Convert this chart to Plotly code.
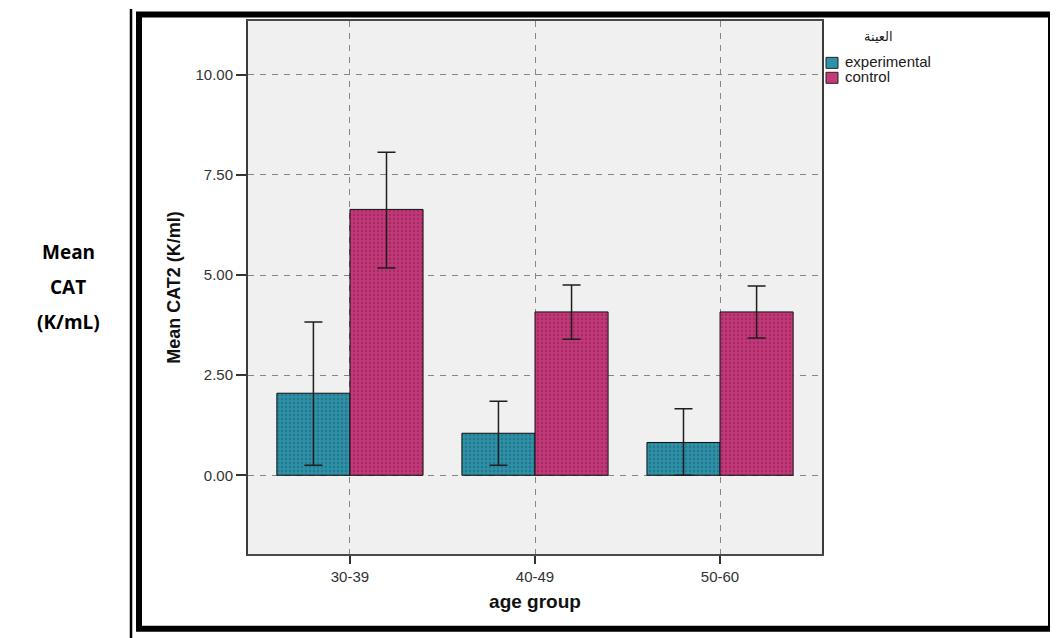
import plotly.graph_objects as go

categories = ["30-39", "40-49", "50-60"]
exp_mean = [2.05, 1.05, 0.82]
exp_low = [0.25, 0.25, 0.0]
exp_high = [3.83, 1.85, 1.66]
ctl_mean = [6.64, 4.08, 4.08]
ctl_low = [5.18, 3.40, 3.43]
ctl_high = [8.07, 4.75, 4.73]
y_ticks = [0, 2.5, 5, 7.5, 10]
y_tick_labels = ["0.00", "2.50", "5.00", "7.50", "10.00"]
legend_names = ["experimental", "control"]
legend_title = "العينة"

# The page body has an 8px margin, so work in page pixels and shift.
OFF = 8
W, H = 1058 - OFF, 638 - OFF
L, R, T, B = 248, 822, 19, 554  # plot area in page pixels

EXP_COL, EXP_DOT = "#2e92aa", "#1b5f70"
CTL_COL, CTL_DOT = "#c5397a", "#86204d"


def px(x):
    return (x - L) / (R - L)


def py(y):
    return (B - y) / (B - T)


fig = go.Figure()

err_style = dict(type="data", symmetric=False, color="#1e1e1e", thickness=1.5, width=9)

fig.add_trace(go.Bar(
    name=legend_names[0], x=categories, y=exp_mean,
    marker=dict(color=EXP_COL, line=dict(color="#111111", width=1),
                pattern=dict(shape=".", size=4, solidity=0.38,
                             fgcolor=EXP_DOT, bgcolor=EXP_COL)),
    error_y=dict(array=[h - m for h, m in zip(exp_high, exp_mean)],
                 arrayminus=[m - l for m, l in zip(exp_mean, exp_low)], **err_style),
))
fig.add_trace(go.Bar(
    name=legend_names[1], x=categories, y=ctl_mean,
    marker=dict(color=CTL_COL, line=dict(color="#111111", width=1),
                pattern=dict(shape=".", size=4, solidity=0.38,
                             fgcolor=CTL_DOT, bgcolor=CTL_COL)),
    error_y=dict(array=[h - m for h, m in zip(ctl_high, ctl_mean)],
                 arrayminus=[m - l for m, l in zip(ctl_mean, ctl_low)], **err_style),
))

axis_font = dict(family="Liberation Sans, Arial", size=15, color="#333333")
grid = dict(showgrid=True, gridcolor="#858585", griddash="6px,6px", gridwidth=1.2)

fig.update_layout(
    width=W, height=H,
    margin=dict(l=L - OFF, r=1058 - R, t=T - OFF, b=638 - B, pad=0),
    paper_bgcolor="white", plot_bgcolor="#f0f0f0",
    barmode="group", bargap=0.21, bargroupgap=0,
    font=axis_font,
    showlegend=False,
    xaxis=dict(
        range=[-0.551, 2.551], type="category",
        showline=True, linecolor="#4a4a4a", linewidth=1.5, mirror=True,
        ticks="outside", ticklen=8, tickcolor="#333333", tickwidth=1.5,
        tickfont=axis_font, zeroline=False,
        title=dict(text="<b>age group</b>", standoff=11,
                   font=dict(family="Liberation Sans, Arial", size=19, color="#111111")),
        **grid,
    ),
    yaxis=dict(
        range=[-1.965, 11.345],
        tickvals=y_ticks, ticktext=y_tick_labels,
        showline=True, linecolor="#3a3a3a", linewidth=2, mirror=True,
        ticks="outside", ticklen=10, tickcolor="#333333", tickwidth=1.5,
        tickfont=axis_font, zeroline=False,
        title=dict(text="<b>Mean CAT2 (K/ml)</b>", standoff=10,
                   font=dict(family="Liberation Sans, Arial", size=18, color="#111111")),
        **grid,
    ),
)

shapes = [
    # thick frame
    dict(type="rect", xref="paper", yref="paper",
         x0=px(139), x1=px(1051), y0=py(629), y1=py(12.5),
         line=dict(color="black", width=6), fillcolor="rgba(0,0,0,0)", layer="above"),
    # thin outer line on the left
    dict(type="line", xref="paper", yref="paper",
         x0=px(131), x1=px(131), y0=py(7), y1=py(640),
         line=dict(color="black", width=2.5)),
]

# legend (manual, SPSS style)
sw_x0, sw_x1 = 826, 838
sw_rows = [(55.5, 66.5, 61), (70.5, 81.5, 76)]
for (y0, y1, yc), name, col in zip(sw_rows, legend_names, [EXP_COL, CTL_COL]):
    shapes.append(dict(type="rect", xref="paper", yref="paper",
                       x0=px(sw_x0), x1=px(sw_x1), y0=py(y1), y1=py(y0),
                       line=dict(color="#222222", width=1), fillcolor=col))
    fig.add_annotation(text=name, xref="paper", yref="paper",
                       x=px(843), y=py(yc - 1), xanchor="left", yanchor="middle",
                       showarrow=False,
                       font=dict(family="Liberation Sans, Arial", size=15, color="#1a1a1a"))
fig.add_annotation(text=legend_title, xref="paper", yref="paper",
                   x=px(878), y=py(35), xanchor="center", yanchor="middle",
                   showarrow=False,
                   font=dict(family="DejaVu Sans", size=13, color="#1a1a1a"))
fig.update_layout(shapes=shapes)

side_lines = ["Mean", "CAT", "(K/mL)"]
side_y = [251, 286, 321]
for txt, yy in zip(side_lines, side_y):
    fig.add_annotation(text=f"<b>{txt}</b>", xref="paper", yref="paper",
                       x=px(68), y=py(yy), xanchor="center", yanchor="middle",
                       showarrow=False,
                       font=dict(family="Open Sans, Noto Sans", size=19, color="black"))

fig.write_html("out.html")
